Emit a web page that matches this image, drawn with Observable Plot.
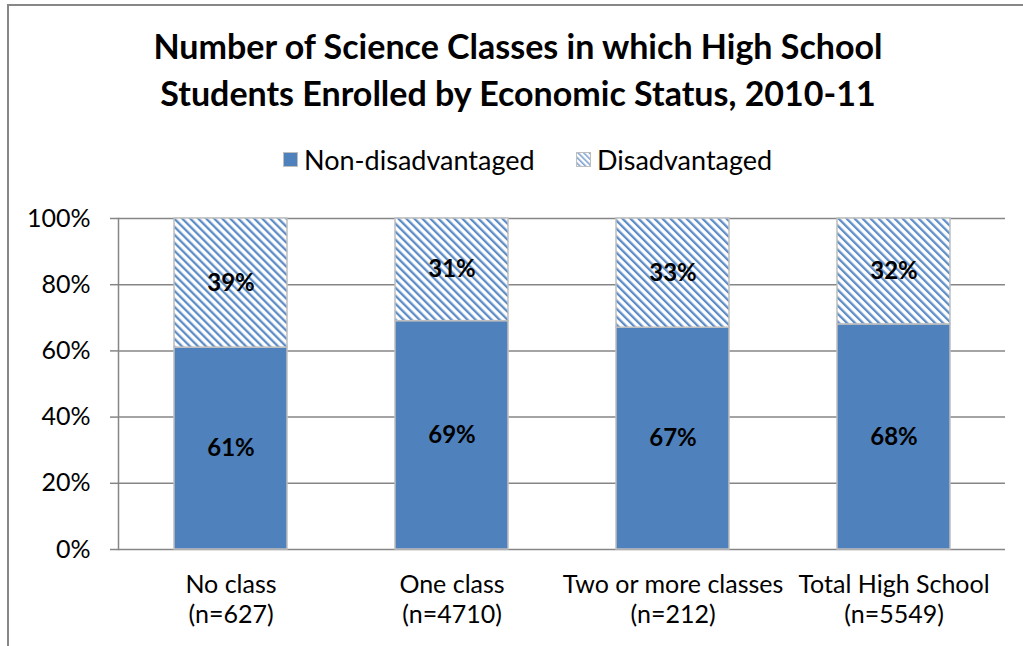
<!DOCTYPE html>
<html><head><meta charset="utf-8">
<script src="https://cdn.jsdelivr.net/npm/d3@7"></script>
<script src="https://cdn.jsdelivr.net/npm/@observablehq/plot@0.6"></script>
<style>
body{margin:0;background:#fff;font-family:Lato,"Open Sans",sans-serif;}
#wrap{position:relative;width:1023px;height:646px;overflow:hidden;background:#fff;}
#frame{position:absolute;left:7px;top:4px;width:1040px;height:680px;border-left:2px solid #878787;border-top:2px solid #878787;}
#title{position:absolute;left:0;width:1036px;top:22px;text-align:center;font-weight:bold;font-size:34px;line-height:47px;color:#000;}
.leg{position:absolute;top:143px;display:flex;align-items:center;font-size:27px;color:#000;white-space:nowrap;}
.leg svg{margin-right:6px;}
#chart{position:absolute;left:0;top:190px;}
</style></head>
<body>
<div id="wrap">
  <div id="frame"></div>
  <div id="title">Number of Science Classes in which High School<br>Students Enrolled by Economic Status, 2010-11</div>
  <div class="leg" id="leg1" style="left:283px"></div>
  <div class="leg" id="leg2" style="left:576px"></div>
  <div id="chart"></div>
</div>
<script>
const categories = ["No class", "One class", "Two or more classes", "Total High School"];
const nLabels = ["(n=627)", "(n=4710)", "(n=212)", "(n=5549)"];
const series = ["Non-disadvantaged", "Disadvantaged"];
const nonDisadvantaged = [61, 69, 67, 68];
const disadvantaged = [39, 31, 33, 32];
const yTicks = [0, 20, 40, 60, 80, 100];
const colors = ["#4f81bd", "url(#hatch)"];

const data = [];
categories.forEach((c, i) => {
  data.push({category: c, series: series[0], value: nonDisadvantaged[i]});
  data.push({category: c, series: series[1], value: disadvantaged[i]});
});

const plot = Plot.plot({
  width: 1023, height: 456,
  marginLeft: 118, marginRight: 18, marginTop: 28, marginBottom: 97,
  style: {fontFamily: "Lato, sans-serif", background: "transparent", overflow: "visible", color: "#000"},
  x: {domain: categories, paddingInner: 0.49, paddingOuter: 0.245, label: null},
  y: {domain: [0, 100], label: null},
  color: {domain: series, range: colors},
  marks: [
    Plot.gridY(yTicks, {stroke: "#868686", strokeOpacity: 1, strokeWidth: 1.5}),
    Plot.frame({anchor: "left", stroke: "#868686", strokeWidth: 1.5}),
    Plot.axisY({ticks: yTicks, tickSize: 8, tickPadding: 20, tickFormat: d => d + "%", fontSize: 25, stroke: "#868686", strokeWidth: 1.5, fill: "#000", label: null}),
    Plot.barY(data, {x: "category", y: "value", fill: "series", stroke: "#bfbfbf", strokeWidth: 1.5}),
    Plot.text(data, Plot.stackY({x: "category", y: "value", text: d => d.value + "%", fontWeight: "bold", fontSize: 24, fill: "#000"})),
    Plot.axisX({tickSize: 0, tickPadding: 22, fontSize: 25, lineHeight: 1.2, fill: "#000", label: null,
      tickFormat: d => d + "\n" + nLabels[categories.indexOf(d)]})
  ]
});

const ns = "http://www.w3.org/2000/svg";
const defs = document.createElementNS(ns, "defs");
defs.innerHTML = '<pattern id="hatch" patternUnits="userSpaceOnUse" width="5.66" height="5.66" patternTransform="rotate(-45)"><rect width="5.66" height="5.66" fill="#fff"/><rect width="2.3" height="5.66" fill="#5f8dc6"/></pattern>';
plot.insertBefore(defs, plot.firstChild);
document.getElementById("chart").appendChild(plot);

function swatch(fill, id) {
  const extra = id ? '<defs><pattern id="' + id + '" patternUnits="userSpaceOnUse" width="4" height="4" patternTransform="rotate(-45)"><rect width="4" height="4" fill="#fff"/><rect width="1.6" height="4" fill="#7fa3d0"/></pattern></defs>' : '';
  return '<svg width="15" height="15">' + extra + '<rect x="0.5" y="0.5" width="14" height="14" fill="' + fill + '" stroke="#bfbfbf" stroke-width="1"/></svg>';
}
document.getElementById("leg1").innerHTML = swatch(colors[0]) + '<span>' + series[0] + '</span>';
document.getElementById("leg2").innerHTML = swatch("url(#hatchLeg)", "hatchLeg") + '<span>' + series[1] + '</span>';
</script>
</body></html>
